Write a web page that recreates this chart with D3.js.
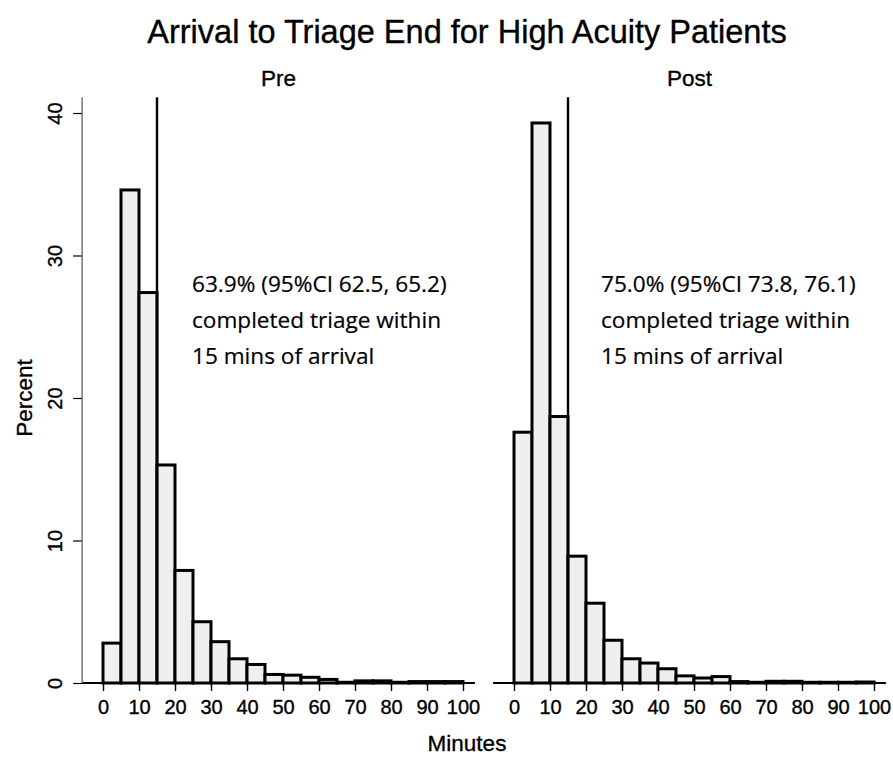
<!DOCTYPE html>
<html>
<head>
<meta charset="utf-8">
<script src="https://cdn.jsdelivr.net/npm/d3@7"></script>
<style>
  body { margin: 0; background: #fff; }
  svg text { font-family: "Liberation Sans", Arial, sans-serif; fill: #000; stroke: #000; stroke-width: 0.35px; }
  svg text.note { font-family: "Open Sans", "Noto Sans", sans-serif; stroke-width: 0.2px; }
</style>
</head>
<body>
<svg id="chart" width="893" height="760"></svg>
<script>
// bin starts (minutes), each bin 5 minutes wide
var binStarts = [0, 5, 10, 15, 20, 25, 30, 35, 40, 45, 50, 55, 60, 65, 70, 75, 80, 85, 90, 95];
var binWidth = 5;

// percent of patients per bin
var preValues = [2.8, 34.6, 27.4, 15.3, 7.9, 4.3, 2.9, 1.7, 1.3, 0.6, 0.55, 0.4, 0.25, 0.05, 0.15, 0.15, 0.05, 0.1, 0.1, 0.1];
var postValues = [17.6, 39.3, 18.7, 8.9, 5.6, 3.0, 1.7, 1.4, 1.0, 0.5, 0.35, 0.45, 0.1, 0.05, 0.12, 0.12, 0.05, 0.05, 0.05, 0.07];

var xTicks = [0, 10, 20, 30, 40, 50, 60, 70, 80, 90, 100];
var yTicks = [0, 10, 20, 30, 40];
var cutoff = 15;

var panelTitles = ["Pre", "Post"];
var notes = [
  ["63.9% (95%CI 62.5, 65.2)", "completed triage within", "15 mins of arrival"],
  ["75.0% (95%CI 73.8, 76.1)", "completed triage within", "15 mins of arrival"]
];

var svg = d3.select("#chart");

var y = d3.scaleLinear().domain([0, 40]).range([683, 113]);
var yTop = 41.1;
var xLo = -5.8, xHi = 103.3;

var panels = [
  { title: panelTitles[0], values: preValues, note: notes[0], x: d3.scaleLinear().domain([0, 100]).range([103, 463]) },
  { title: panelTitles[1], values: postValues, note: notes[1], x: d3.scaleLinear().domain([0, 100]).range([514, 874]) }
];

// Title
svg.append("text")
  .attr("x", 467).attr("y", 43)
  .attr("text-anchor", "middle")
  .style("font-size", "32.5px")
  .text("Arrival to Triage End for High Acuity Patients");

panels.forEach(function(p, pi) {
  var x = p.x;
  var g = svg.append("g");
  var data = binStarts.map(function(b, i) { return { x0: b, x1: b + binWidth, v: p.values[i] }; });

  // panel title
  g.append("text")
    .attr("x", (x(xLo) + x(xHi)) / 2).attr("y", 86)
    .attr("text-anchor", "middle")
    .style("font-size", "22.5px")
    .text(p.title);

  // bars
  g.selectAll("rect.bar").data(data).enter().append("rect")
    .attr("class", "bar")
    .attr("x", function(d) { return x(d.x0); })
    .attr("width", function(d) { return x(d.x1) - x(d.x0); })
    .attr("y", function(d) { return y(d.v); })
    .attr("height", function(d) { return y(0) - y(d.v); })
    .attr("fill", "#efefef")
    .attr("stroke", "#000")
    .attr("stroke-width", 3);

  // 15 minute line
  g.append("line")
    .attr("x1", x(cutoff)).attr("x2", x(cutoff))
    .attr("y1", y(yTop)).attr("y2", y(0))
    .attr("stroke", "#000").attr("stroke-width", 2.4);

  // x axis
  var xAxis = d3.axisBottom(x).tickValues(xTicks).tickSize(8).tickPadding(9);
  var ax = g.append("g")
    .attr("transform", "translate(0," + y(0) + ")")
    .call(xAxis);
  ax.select(".domain").remove();
  ax.selectAll(".tick line").attr("stroke", "#000").attr("stroke-width", 1.4);
  ax.selectAll(".tick text").style("font-size", "20px").attr("font-family", null);
  g.append("line")
    .attr("x1", x(xLo)).attr("x2", x(xHi))
    .attr("y1", y(0)).attr("y2", y(0))
    .attr("stroke", "#000").attr("stroke-width", 1.8);

  // annotation
  var t = g.append("text").attr("class", "note").style("font-size", "22.6px");
  p.note.forEach(function(line, i) {
    t.append("tspan")
      .attr("x", x(cutoff) + (pi === 0 ? 35 : 33))
      .attr("y", 292 + i * 36)
      .text(line);
  });

  // y axis on the left panel only
  if (pi === 0) {
    var yAxis = d3.axisLeft(y).tickValues(yTicks).tickSize(9);
    var ay = g.append("g")
      .attr("transform", "translate(" + x(xLo) + ",0)")
      .call(yAxis);
    ay.select(".domain").remove();
    ay.selectAll(".tick line").attr("stroke", "#000").attr("stroke-width", 1.2);
    ay.selectAll(".tick text")
      .attr("transform", "rotate(-90)")
      .attr("x", 0).attr("y", -20).attr("dy", 0)
      .attr("text-anchor", "middle")
      .attr("font-family", null)
      .style("font-size", "20px");
    g.append("line")
      .attr("x1", x(xLo)).attr("x2", x(xLo))
      .attr("y1", y(yTop)).attr("y2", y(0))
      .attr("stroke", "#555").attr("stroke-width", 1.2);
  }
});

// axis titles
svg.append("text")
  .attr("transform", "translate(32,398) rotate(-90)")
  .attr("text-anchor", "middle")
  .style("font-size", "22.5px")
  .text("Percent");

svg.append("text")
  .attr("x", 467).attr("y", 751)
  .attr("text-anchor", "middle")
  .style("font-size", "22.5px")
  .text("Minutes");
</script>
</body>
</html>
